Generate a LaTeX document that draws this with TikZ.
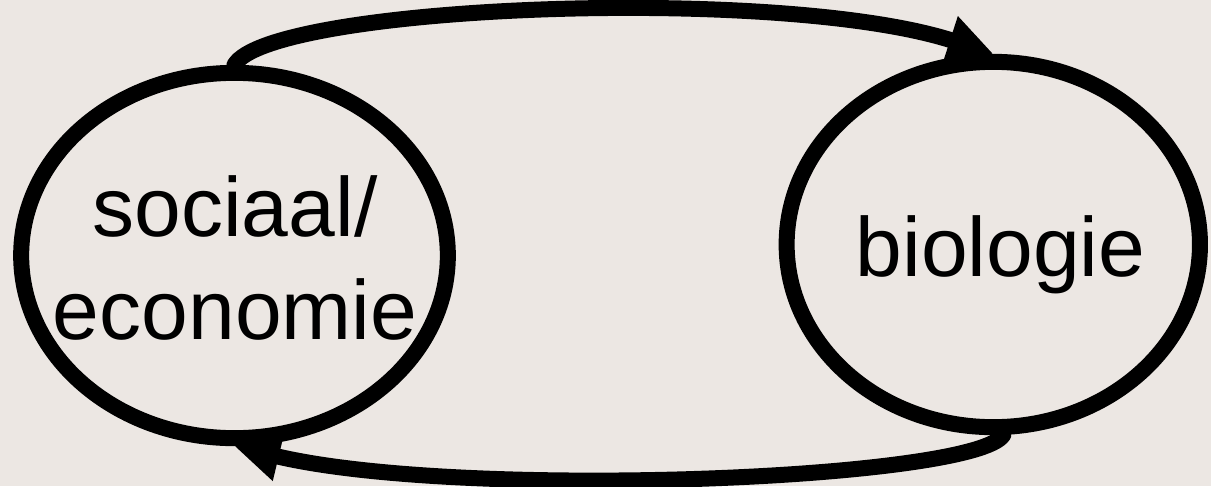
\documentclass[tikz,border=0pt]{standalone}
\usepackage{fontspec}
\setmainfont{Liberation Sans}
\usepackage{tikz}
\usetikzlibrary{arrows.meta,shapes.geometric}
\definecolor{cyclebg}{RGB}{236,231,227}

\begin{document}
\begin{tikzpicture}[
  x=0.75pt,y=-0.75pt,
  cyclenode/.style={draw,ellipse,line width=12pt,inner sep=0pt},
  cyclelabel/.style={font=\fontsize{63}{77.25}\selectfont,align=center,inner sep=0pt},
  cyclearr/.style={-{Triangle[length=34pt,width=35pt]},line width=12pt,line cap=round}
]
  % background
  \fill[cyclebg] (0,0) rectangle (1211,486);
  \useasboundingbox (0,0) rectangle (1211,486);

  % Left: sociaal/economie
  \node[cyclenode,minimum width=320pt,minimum height=274pt] (lft) at (234.5,255.5) {};
  \node[cyclelabel] (lfttxt) at (235,258) {sociaal/\\economie};

  % Right: biologie
  \node[cyclenode,minimum width=310pt,minimum height=274pt] (rgt) at (993.3,244.5) {};
  \node[cyclelabel,anchor=base] (rgttxt) at (1000.5,276) {biologie};

  % Arrows between the two
  \draw[cyclearr] (lft.north) .. controls (270,5) and (780,-15) .. (rgt.north);
  \draw[cyclearr] (rgt.-87) .. controls (975,480) and (460,500) .. (lft.south);
\end{tikzpicture}
\end{document}
